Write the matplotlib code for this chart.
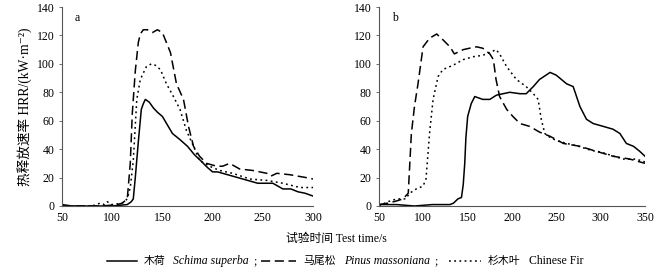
import matplotlib
matplotlib.use("Agg")
import matplotlib.pyplot as plt
from matplotlib.offsetbox import (AnchoredOffsetbox, HPacker, TextArea, DrawingArea)
from matplotlib.lines import Line2D

FAM = ['Liberation Serif', 'Noto Sans CJK SC', 'DejaVu Serif']
plt.rcParams['font.family'] = FAM

# ---- Panel a data ----
a_schima_t = [50, 60, 80, 100, 115, 119, 121, 123, 126, 129, 131, 133, 137, 141, 145, 150, 155, 160,
              167, 175, 182, 188, 195, 200, 205, 215, 225, 235, 245, 255, 260, 265, 270, 278, 285, 292, 300]
a_schima_v = [1, 0, 0, 0, 1, 3, 5, 20, 45, 68, 72, 75, 73, 69, 66, 63, 57, 51,
              47, 42, 36, 32, 27, 24, 24, 22, 20, 18, 16, 16, 16, 14, 12, 12, 10, 9, 7]

a_pinus_t = [50, 70, 90, 105, 110, 115, 118, 120, 123, 126, 128, 131, 135, 140, 145, 150, 154, 158,
             164, 171, 176, 181, 187, 194, 204, 210, 217, 227, 240, 254, 258, 264, 277, 293, 300]
a_pinus_v = [0, 0, 0, 1, 2, 5, 30, 65, 95, 115, 121, 124, 124, 122, 124, 122, 115, 108,
             86, 75, 56, 42, 35, 30, 28, 28, 30, 26, 25, 23, 21, 23, 22, 20, 19]

a_fir_t = [50, 80, 88, 92, 95, 100, 110, 115, 118, 121, 124.5, 128, 134, 139, 143, 148, 154, 161,
           167.5, 174, 181, 187, 197, 207, 220, 237, 254, 270, 287, 300]
a_fir_v = [0, 0, 2, 1, 3, 1, 2, 5, 13, 32, 75, 89, 98, 100, 99, 96, 86, 77,
           68, 53, 42, 32, 28, 25, 23, 19, 18, 16, 13, 13]

# ---- Panel b data ----
b_schima_t = [50, 70, 90, 110, 130, 134, 139, 143, 145, 146.7, 148, 150, 154, 158, 167, 175, 182.5,
              197.5, 209, 216, 224, 231, 243, 250, 261.5, 269, 276.6, 284, 291.6, 303, 314, 321.7,
              329, 337, 344, 350]
b_schima_v = [1, 1, 0, 1, 1, 2, 5, 6, 15, 30, 48, 63, 72, 77, 75, 75, 78,
              80, 79, 79, 84, 89, 94, 92, 86, 84, 70, 61, 58, 56, 54, 51,
              44, 42, 38.5, 35]

b_pinus_t = [50, 60, 69.6, 77, 80, 83, 86.5, 90, 94, 99.7, 107, 115, 122, 130, 135, 145, 152, 160,
             167, 175, 179, 182, 186, 194, 201, 209, 220, 231, 243, 258, 276.6, 295, 314, 333, 350]
b_pinus_v = [1, 2, 3.5, 5, 7, 9, 51, 70, 86, 112, 118, 121, 117, 112, 107, 110, 111, 112,
             111, 107, 103, 89, 77, 68, 63, 58, 56, 52, 49, 44, 42, 38.5, 35, 33, 30]

b_fir_t = [50, 60, 70, 80, 84.6, 92, 99.7, 103, 107, 111, 116.6, 122, 133.5, 145, 156, 167, 175,
           182, 186, 194, 205, 216, 224, 229.5, 233, 237, 241, 250, 262, 275, 290, 300, 315, 325,
           340, 350]
b_fir_v = [0, 3, 5, 5, 9, 12, 14, 19, 51, 75, 91, 96, 99, 103, 105, 106, 108,
           110, 107, 98, 89, 84, 79, 75, 61, 51, 49, 46, 44, 42, 39, 38, 35, 33,
           33, 31]

x_ticks_a = [50, 100, 150, 200, 250, 300]
x_ticks_b = [50, 100, 150, 200, 250, 300, 350]
y_ticks = [0, 20, 40, 60, 80, 100, 120, 140]

species_cn = ['木荷', '马尾松', '杉木叶']
species_latin = ['Schima superba', 'Pinus massoniana', 'Chinese Fir']

styles = [
    dict(color='black', lw=1.1, linestyle='-'),
    dict(color='black', lw=1.1, linestyle=(0, (6, 3))),
    dict(color='black', lw=1.1, linestyle=(0, (1.2, 2.2))),
]

FS = 8.5
PX = 72 / 100.0  # points per pixel

fig = plt.figure(figsize=(6.58, 2.78), dpi=100)
ax_a = fig.add_axes([62/658, 1-206/278, 251/658, 199/278])
ax_b = fig.add_axes([379/658, 1-206/278, 266/658, 199/278])

ax_a.plot(a_schima_t, a_schima_v, **styles[0])
ax_a.plot(a_pinus_t, a_pinus_v, **styles[1])
ax_a.plot(a_fir_t, a_fir_v, **styles[2])

ax_b.plot(b_schima_t, b_schima_v, **styles[0])
ax_b.plot(b_pinus_t, b_pinus_v, **styles[1])
ax_b.plot(b_fir_t, b_fir_v, **styles[2])

for ax, xt, xmax in [(ax_a, x_ticks_a, 300), (ax_b, x_ticks_b, 350)]:
    ax.set_xlim(50, xmax)
    ax.set_ylim(0, 140)
    ax.set_xticks(xt)
    ax.set_yticks(y_ticks)
    ax.spines['top'].set_visible(False)
    ax.spines['right'].set_visible(False)
    for s in ['left', 'bottom']:
        ax.spines[s].set_color('#555555')
        ax.spines[s].set_linewidth(0.8)
    ax.tick_params(axis='y', direction='out', length=2.5, width=0.6, color='#555555',
                   labelsize=FS, pad=3)
    ax.tick_params(axis='x', length=0, labelsize=FS, pad=4)

ax_a.text(0.05, 0.975, 'a', transform=ax_a.transAxes, fontsize=FS, va='top')
ax_b.text(0.05, 0.975, 'b', transform=ax_b.transAxes, fontsize=FS, va='top')

ax_a.set_ylabel('热释放速率 HRR/(kW·m⁻²)', fontsize=9.8, labelpad=3)

fig.text(336/658, 1-239/278, '试验时间 Test time/s', ha='center', va='center', fontsize=FS)


def spacer(px):
    return DrawingArea(px * PX, 1, 0, 0)


def handle(i, px):
    w = px * PX
    da = DrawingArea(w, 8, 0, 0)
    da.add_artist(Line2D([0, w], [4, 4], **styles[i]))
    return da


cn_props = dict(fontsize=7.8, family=FAM)
handle_len = [30, 35, 32]
items = []
for i in range(3):
    items.append(handle(i, handle_len[i]))
    items.append(spacer(7))
    items.append(TextArea(species_cn[i], textprops=cn_props))
    items.append(spacer(8))
    latin_style = 'italic' if i < 2 else 'normal'
    items.append(TextArea(species_latin[i], textprops=dict(fontsize=FS, family=FAM, style=latin_style)))
    if i < 2:
        items.append(spacer(4))
        items.append(TextArea(';', textprops=dict(fontsize=FS, family=FAM)))
        items.append(spacer(5 if i == 0 else 12))
box = HPacker(children=items, align='center', pad=0, sep=0)
anch = AnchoredOffsetbox(loc='center', child=box, frameon=False, pad=0, borderpad=0,
                         bbox_to_anchor=(345/658, 1-261/278), bbox_transform=fig.transFigure)
fig.add_artist(anch)

fig.savefig('out.png', dpi=100)
